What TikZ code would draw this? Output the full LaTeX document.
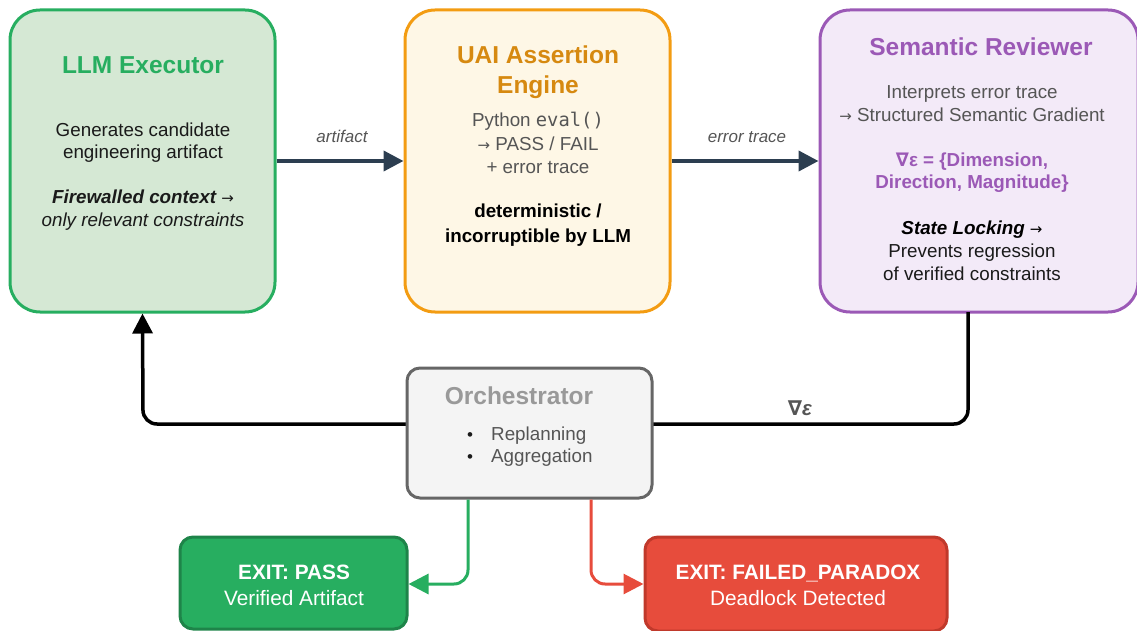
\documentclass[tikz,border=0pt]{standalone}
\usepackage{fontspec}
\setmainfont{Liberation Sans}
\newfontfamily\symfont{DejaVu Sans}
\newfontfamily\codefont{DejaVu Sans Mono}
\usetikzlibrary{arrows.meta}

\definecolor{exGreen}{HTML}{27AE60}
\definecolor{exGreenDark}{HTML}{1E8449}
\definecolor{exFill}{HTML}{D5E8D4}
\definecolor{uaiStroke}{HTML}{F39C12}
\definecolor{uaiTitle}{HTML}{D68910}
\definecolor{uaiFill}{HTML}{FEF7E6}
\definecolor{revStroke}{HTML}{9B59B6}
\definecolor{revFill}{HTML}{F3EAF8}
\definecolor{orchStroke}{HTML}{666666}
\definecolor{orchFill}{HTML}{F4F4F4}
\definecolor{orchTitle}{HTML}{999999}
\definecolor{midGray}{HTML}{555555}
\definecolor{textDark}{HTML}{1A1A1A}
\definecolor{flowDark}{HTML}{2C3E50}
\definecolor{failRed}{HTML}{E74C3C}
\definecolor{failRedDark}{HTML}{C0392B}

\tikzset{
  panel/.style={draw, line width=3pt, rounded corners=30pt, inner sep=0pt},
  smallpanel/.style={draw, line width=3pt, rounded corners=13pt, inner sep=0pt},
  line/.style={inner sep=0pt, anchor=base},
  titletext/.style={line, font=\fontsize{24.5}{29}\selectfont\bfseries},
  bodytext/.style={line, font=\fontsize{18.8}{22}\selectfont},
  exittext/.style={line, font=\fontsize{20.8}{25}\selectfont, text=white},
  edgelabel/.style={line, font=\fontsize{17}{20}\selectfont\itshape, text=midGray},
  bigtip/.style={-{Triangle[length=20pt,width=20pt]}},
}

\begin{document}
\begin{tikzpicture}[x=1pt, y=-1pt]
\useasboundingbox (0,0) rectangle (1137,631);

% ---------- main stage boxes ----------
\node[panel, draw=exGreen, fill=exFill, minimum width=265pt, minimum height=302pt] (exec) at (142.5,161) {};
\node[panel, draw=uaiStroke, fill=uaiFill, minimum width=265pt, minimum height=302pt] (uai) at (537.5,161) {};
\node[panel, draw=revStroke, fill=revFill, minimum width=318pt, minimum height=302pt] (rev) at (979,161) {};

% LLM Executor text
\node[titletext, text=exGreen] (execT) at (143,74) {LLM Executor};
\node[bodytext, text=textDark] (execA) at (143,137) {Generates candidate};
\node[bodytext, text=textDark] (execB) at (143,159) {engineering artifact};
\node[bodytext, text=textDark] (execC) at (143,204) {\bfseries\itshape Firewalled context {\normalfont\symfont\fontsize{15}{18}\selectfont →}};
\node[bodytext, text=textDark] (execD) at (143,226) {\itshape only relevant constraints};

% UAI Assertion Engine text
\node[titletext, text=uaiTitle] (uaiT1) at (538,64) {UAI Assertion};
\node[titletext, text=uaiTitle] (uaiT2) at (538,94) {Engine};
\node[bodytext, text=midGray] (uaiA) at (538,127) {Python {\codefont eval()}};
\node[bodytext, text=midGray] (uaiB) at (538,151) {{\symfont\fontsize{15}{18}\selectfont →} PASS / FAIL};
\node[bodytext, text=midGray] (uaiC) at (538,174) {+ error trace};
\node[bodytext, text=black] (uaiD) at (538,218) {\bfseries deterministic /};
\node[bodytext, text=black] (uaiE) at (538,242) {\bfseries incorruptible by LLM};

% Semantic Reviewer text
\node[titletext, text=revStroke] (revT) at (981,56) {Semantic Reviewer};
\node[bodytext, text=midGray] (revA) at (972,99) {Interprets error trace};
\node[bodytext, text=midGray] (revB) at (972,122) {{\symfont\fontsize{15}{18}\selectfont →} Structured Semantic Gradient};
\node[bodytext, text=revStroke] (revC) at (972,167) {\bfseries{\symfont ∇}ε = \{Dimension,};
\node[bodytext, text=revStroke] (revD) at (972,189) {\bfseries Direction, Magnitude\}};
\node[bodytext, text=black] (revE) at (972,234) {\bfseries\itshape State Locking {\normalfont\symfont\fontsize{15}{18}\selectfont →}};
\node[bodytext, text=textDark] (revF) at (972,257) {Prevents regression};
\node[bodytext, text=textDark] (revG) at (972,280) {of verified constraints};

% ---------- forward flow ----------
\draw[flowDark, line width=4pt, bigtip] (exec.east) -- (uai.west);
\draw[flowDark, line width=4pt, bigtip] (uai.east) -- (rev.west);
\node[edgelabel] (lblArtifact) at (342,143) {artifact};
\node[edgelabel] (lblTrace) at (747,143) {error trace};

% ---------- feedback loop through the orchestrator ----------
\coordinate (revOut) at (968,312);
\draw[black, line width=3.5pt, rounded corners=14pt, bigtip]
  (revOut) -- (968,424) -- (143,424) -- (exec.south);
\node[line, font=\fontsize{20.5}{24}\selectfont\bfseries\itshape, text=midGray] (lblGrad) at (800,415) {{\symfont\bfseries\itshape ∇}ε};

\node[smallpanel, draw=orchStroke, fill=orchFill, minimum width=245pt, minimum height=130pt] (orch) at (529.5,433) {};
\node[titletext, text=orchTitle] (orchT) at (519,404) {Orchestrator};
\node[line, font=\fontsize{17}{20}\selectfont, text=textDark] (bulA) at (470,440) {\textbullet};
\node[line, font=\fontsize{17}{20}\selectfont, text=textDark] (bulB) at (470,462) {\textbullet};
\node[bodytext, anchor=base west, text=midGray] (orchA) at (491,440) {Replanning};
\node[bodytext, anchor=base west, text=midGray] (orchB) at (491,462) {Aggregation};

% ---------- exits ----------
\node[smallpanel, draw=exGreenDark, fill=exGreen, minimum width=227pt, minimum height=92pt] (pass) at (293.5,583) {};
\node[smallpanel, draw=failRedDark, fill=failRed, minimum width=302pt, minimum height=94pt] (fail) at (796,584) {};
\node[exittext] (passT) at (294,579) {\bfseries EXIT: PASS};
\node[exittext] (passS) at (294,605) {Verified Artifact};
\node[exittext] (failT) at (798,579) {\bfseries EXIT: FAILED\_PARADOX};
\node[exittext] (failS) at (798,605) {Deadlock Detected};

\draw[exGreen, line width=3pt, rounded corners=14pt, bigtip]
  (orch.south -| 468,0) -- (468,584) -- (pass.east |- 0,584);
\draw[failRed, line width=3pt, rounded corners=14pt, bigtip]
  (orch.south -| 591,0) -- (591,584) -- (fail.west |- 0,584);
\end{tikzpicture}
\end{document}
